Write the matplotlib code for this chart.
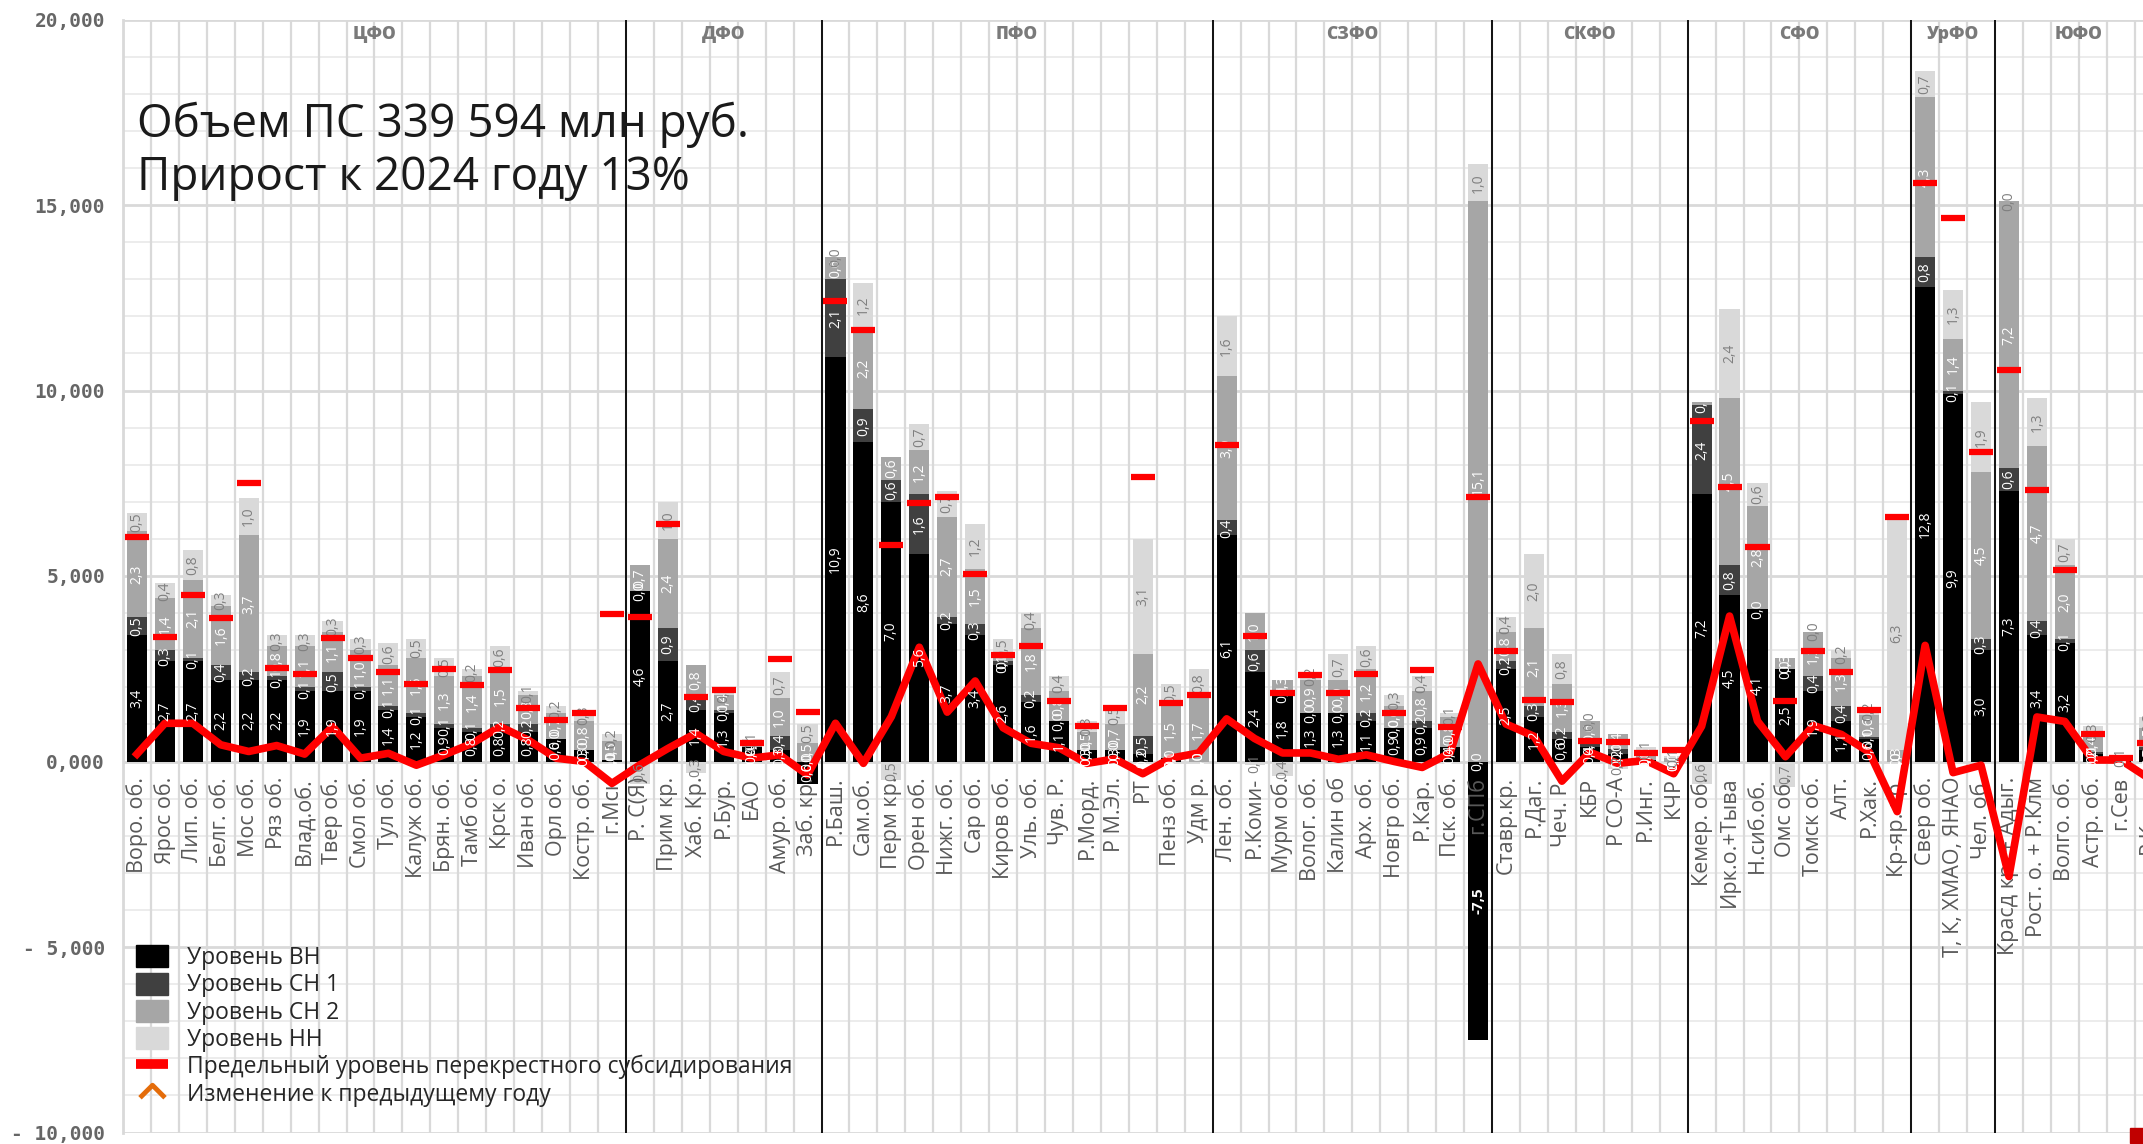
import numpy as np
import matplotlib
matplotlib.use('Agg')
import matplotlib.pyplot as plt
from matplotlib.lines import Line2D
from matplotlib.patches import Patch, Rectangle
from matplotlib.ticker import FuncFormatter, MultipleLocator

plt.rcParams['font.family'] = ['Open Sans', 'DejaVu Sans']

# ---------------- data (thousand million rub.) ----------------
districts = ['ЦФО', 'ДФО', 'ПФО', 'СЗФО', 'СКФО', 'СФО', 'УрФО', 'ЮФО']
district_sizes = [18, 7, 14, 10, 7, 8, 3, 6]

regions = [
    "Воро. об.", "Ярос об.", "Лип. об.", "Белг. об.", "Мос об.", "Ряз об.", "Влад.об.", "Твер об.",
    "Смол об.", "Тул об.", "Калуж об.", "Брян. об.", "Тамб об.", "Крск о.", "Иван об.", "Орл об.",
    "Костр. об.", "г.Мск",
    "Р. С(Я)", "Прим кр.", "Хаб. Кр.", "Р.Бур.", "ЕАО", "Амур. об.", "Заб. кр.",
    "Р.Баш.", "Сам.об.", "Перм кр.", "Орен об.", "Нижг. об.", "Сар об.", "Киров об.", "Уль. об.",
    "Чув. Р.", "Р.Морд.", "Р М.Эл.", "РТ", "Пенз об.", "Удм р.",
    "Лен. об.", "Р.Коми-", "Мурм об.", "Волог. об.", "Калин об", "Арх. об.", "Новгр об.", "Р.Кар.",
    "Пск. об.", "г.СПб",
    "Ставр.кр.", "Р.Даг.", "Чеч. Р.", "КБР", "Р СО-А", "Р.Инг.", "КЧР",
    "Кемер. об.", "Ирк.о.+Тыва", "Н.сиб.об.", "Омс об.", "Томск об.", "Алт.", "Р.Хак.", "Кр-яр. кр.",
    "Свер об.", "Т, К, ХМАО, ЯНАО", "Чел. об.",
    "Красд кр. + Адыг.", "Рост. о. + Р.Клм", "Волго. об.", "Астр. об.", "г.Сев", "Р.Крым",
]

level_vn = [3.4, 2.7, 2.7, 2.2, 2.2, 2.2, 1.9, 1.9, 1.9, 1.4, 1.2, 0.9, 0.8, 0.8, 0.8, 0.6, 0.3, 0.04,
            4.6, 2.7, 1.4, 1.3, 0.4, 0.3, -0.6,
            10.9, 8.6, 7.0, 5.6, 3.7, 3.4, 2.6, 1.6, 1.1, 0.3, 0.3, 0.2, 0.1, 0.0,
            6.1, 2.4, 1.8, 1.3, 1.3, 1.1, 0.9, 0.9, 0.4, -7.5,
            2.5, 1.2, 0.6, 0.4, 0.2, 0.05, 0.0,
            7.2, 4.5, 4.1, 2.5, 1.9, 1.1, 0.6, 0.0,
            12.8, 9.9, 3.0,
            7.3, 3.4, 3.2, 0.2, 0.05, 0.3]
level_sn1 = [0.5, 0.3, 0.1, 0.4, 0.2, 0.1, 0.1, 0.5, 0.1, 0.1, 0.1, 0.1, 0.1, 0.2, 0.2, 0.0, 0.0, 0.0,
             0.0, 0.9, 0.4, 0.1, 0.0, 0.4, 0.0,
             2.1, 0.9, 0.6, 1.6, 0.2, 0.3, 0.1, 0.2, 0.0, 0.0, 0.0, 0.5, 0.0, 0.0,
             0.4, 0.6, 0.1, 0.0, 0.0, 0.2, 0.0, 0.2, 0.0, 0.0,
             0.2, 0.3, 0.2, 0.1, 0.15, 0.0, 0.0,
             2.4, 0.8, 0.0, 0.0, 0.4, 0.4, 0.05, 0.0,
             0.8, 0.1, 0.3,
             0.6, 0.4, 0.1, 0.05, 0.0, 0.1]
level_sn2 = [2.3, 1.4, 2.1, 1.6, 3.7, 0.8, 1.1, 1.1, 1.0, 1.1, 1.5, 1.3, 1.4, 1.5, 0.8, 0.7, 0.8, 0.5,
             0.7, 2.4, 0.8, 0.4, 0.1, 1.0, 0.5,
             0.6, 2.2, 0.6, 1.2, 2.7, 1.5, 0.1, 1.8, 0.8, 0.5, 0.7, 2.2, 1.5, 1.7,
             3.9, 1.0, 0.3, 0.9, 0.9, 1.2, 0.6, 0.8, 0.8, 15.1,
             0.8, 2.1, 1.3, 0.6, 0.4, 0.2, 0.1,
             0.1, 4.5, 2.8, 0.3, 1.2, 1.3, 0.6, 0.3,
             4.3, 1.4, 4.5,
             7.2, 4.7, 2.0, 0.4, 0.05, 0.5]
level_nn = [0.5, 0.4, 0.8, 0.3, 1.0, 0.3, 0.3, 0.3, 0.3, 0.6, 0.5, 0.5, 0.2, 0.6, 0.1, 0.2, 0.3, 0.2,
            -0.6, 1.0, -0.3, 0.1, 0.1, 0.7, 0.5,
            0.0, 1.2, -0.5, 0.7, 0.7, 1.2, 0.5, 0.4, 0.4, 0.3, 0.5, 3.1, 0.5, 0.8,
            1.6, -0.1, -0.4, 0.2, 0.7, 0.6, 0.3, 0.4, 0.1, 1.0,
            0.4, 2.0, 0.8, 0.0, -0.2, 0.15, 0.05,
            -0.6, 2.4, 0.6, -0.7, 0.0, 0.2, 0.2, 6.3,
            0.7, 1.3, 1.9,
            0.0, 1.3, 0.7, 0.3, 0.05, 0.3]
cross_subsidy_limit = [6.05, 3.35, 4.49, 3.86, 7.50, 2.51, 2.35, 3.32, 2.78, 2.40, 2.08, 2.48, 2.05, 2.46,
                       1.43, 1.11, 1.30, 3.97,
                       3.89, 6.40, 1.73, 1.93, 0.49, 2.75, 1.33,
                       12.40, 11.62, 5.83, 6.96, 7.14, 5.05, 2.86, 3.10, 1.62, 0.96, 1.44, 7.68, 1.57, 1.78,
                       8.54, 3.39, 1.85, 2.32, 1.85, 2.37, 1.31, 2.47, 0.93, 7.12,
                       2.99, 1.66, 1.60, 0.55, 0.53, 0.22, 0.31,
                       9.18, 7.40, 5.77, 1.63, 2.98, 2.41, 1.39, 6.59,
                       15.59, 14.66, 8.35,
                       10.56, 7.31, 5.17, 0.75, 0.09, 0.49]
change_prev_year = [0.20, 1.03, 1.03, 0.45, 0.27, 0.43, 0.20, 0.94, 0.09, 0.22, -0.10, 0.18, 0.49, 0.94,
                    0.58, 0.09, 0.00, -0.59,
                    -0.09, 0.35, 0.76, 0.27, 0.09, 0.18, -0.36,
                    1.03, -0.05, 1.21, 3.08, 1.33, 2.17, 0.91, 0.49, 0.37, -0.05, 0.07, -0.33, 0.09, 0.23,
                    1.15, 0.62, 0.23, 0.23, 0.06, 0.18, 0.00, -0.16, 0.23, 2.63,
                    1.01, 0.68, -0.53, 0.25, -0.05, 0.03, -0.33,
                    0.95, 3.92, 1.09, 0.13, 0.97, 0.73, 0.25, -1.35,
                    3.13, -0.30, -0.10,
                    -3.10, 1.20, 1.08, 0.04, 0.04, -0.45]

series_names = ['Уровень ВН', 'Уровень СН 1', 'Уровень СН 2', 'Уровень НН']
series_colors = ['#000000', '#404040', '#A6A6A6', '#D9D9D9']
label_colors = ['#FFFFFF', '#FFFFFF', '#FFFFFF', '#7F7F7F']

# ---------------- figure ----------------
W, H = 2143, 1144
fig = plt.figure(figsize=(W / 100, H / 100), dpi=100)
n = len(regions)
step = 27.94
ax = fig.add_axes([123 / W, (H - 1132.5) / H, n * step / W, (1132.5 - 19.5) / H])
x = np.arange(n)
ax.set_xlim(-0.5, n - 0.5)
ax.set_ylim(-10000, 20000)

# grid
for yv in range(-10000, 20001, 1000):
    major = yv % 5000 == 0
    ax.axhline(yv, color='#D9D9D9' if major else '#EBEBEB', lw=2.0 if major else 1.3, zorder=0)
for b in np.arange(-0.5, n, 1.0):
    ax.axvline(b, color='#D9D9D9', lw=1.6, zorder=0)


def fmt(v):
    s = f"{abs(v):.1f}".replace('.', ',')
    return ('-' + s) if v <= -1 else s


series = [np.array(level_vn), np.array(level_sn1), np.array(level_sn2), np.array(level_nn)]
pos_b = np.zeros(n)
neg_b = np.zeros(n)
width = 0.72
for vals, col, lc in zip(series, series_colors, label_colors):
    v = vals * 1000
    bottoms = np.where(v >= 0, pos_b, neg_b)
    ax.bar(x, v, width, bottom=bottoms, color=col, linewidth=0, zorder=1)
    for xi, vi, bi in zip(x, vals, bottoms):
        big = vi <= -1
        ax.text(xi, bi + vi * 500, fmt(vi), rotation=90, ha='center', va='center',
                fontsize=10 if not big else 11, color=lc,
                fontweight='bold' if big else 'normal', zorder=4)
    pos_b = pos_b + np.where(v >= 0, v, 0)
    neg_b = neg_b + np.where(v < 0, v, 0)

# change line
ax.plot(x, np.array(change_prev_year) * 1000, color='#FF0000', lw=5.5, zorder=3,
        solid_joinstyle='round')
# limit markers
lim = np.array(cross_subsidy_limit) * 1000
ax.hlines(lim, x - 0.43, x + 0.43, color='#FF0000', lw=4.5, zorder=5)

# district separators and labels
bounds = np.cumsum(district_sizes) - 0.5
for b in bounds[:-1]:
    ax.axvline(b, color='#000000', lw=1.3, zorder=2)
starts = np.concatenate([[-0.5], bounds[:-1]])
for name, s, e in zip(districts, starts, bounds):
    ax.text((s + e) / 2, 19600, name, ha='center', va='center', fontsize=12.5,
            fontweight='heavy', color='#7A7A7A', zorder=4)

# axes styling
for sp in ['top', 'right']:
    ax.spines[sp].set_visible(False)
ax.spines['bottom'].set_position(('data', 0))
ax.spines['bottom'].set_visible(False)
ax.spines['left'].set_color('#D9D9D9')
ax.spines['left'].set_linewidth(2)
ax.set_xticks(x)
ax.set_xticklabels(regions, rotation=90, fontsize=15.5, color='#595959')
ax.tick_params(axis='x', length=0, pad=11)
ax.yaxis.set_major_locator(MultipleLocator(5000))


def yfmt(v, pos):
    v = int(round(v))
    if v == 0:
        return '0,000'
    if v < 0:
        return '- ' + format(abs(v), ',')
    return format(v, ',')


ax.yaxis.set_major_formatter(FuncFormatter(yfmt))
ax.tick_params(axis='y', length=0, pad=13, labelsize=14, labelcolor='#666666',
               labelfontfamily='DejaVu Sans Mono')
for t in ax.get_yticklabels():
    t.set_fontweight('bold')

# legend
chevron = [(-1.0, -0.5), (0.0, 0.5), (1.0, -0.5)]
handles = [Patch(color=c) for c in series_colors]
handles.append(Line2D([0], [0], color='#FF0000', lw=7, solid_capstyle='butt'))
handles.append(Line2D([0], [0], color='#E46C0A', marker=chevron, ms=18, mfc='none',
                      mew=3.5, ls='none'))
labels = series_names + ['Предельный уровень перекрестного субсидирования',
                         'Изменение к предыдущему году']
leg = ax.legend(handles, labels, loc='lower left', bbox_to_anchor=(0.002, 0.015),
                frameon=False, fontsize=16.5, handlelength=1.4, handleheight=1.1,
                handletextpad=0.8, labelspacing=0.11, borderaxespad=0)
for t in leg.get_texts():
    t.set_color('#262626')
leg.set_zorder(6)

# title text
fig.text(137 / W, 1 - 137 / H, 'Объем ПС 339 594 млн руб.', fontsize=33, color='#1a1a1a',
         ha='left', va='baseline')
fig.text(137 / W, 1 - 190 / H, 'Прирост к 2024 году 13%', fontsize=33, color='#1a1a1a',
         ha='left', va='baseline')

fig.add_artist(Rectangle((2130 / W, 1 - 1143 / H), 13 / W, 15 / H, transform=fig.transFigure,
                         color='#C00000'))

fig.savefig('out.png', dpi=100)
